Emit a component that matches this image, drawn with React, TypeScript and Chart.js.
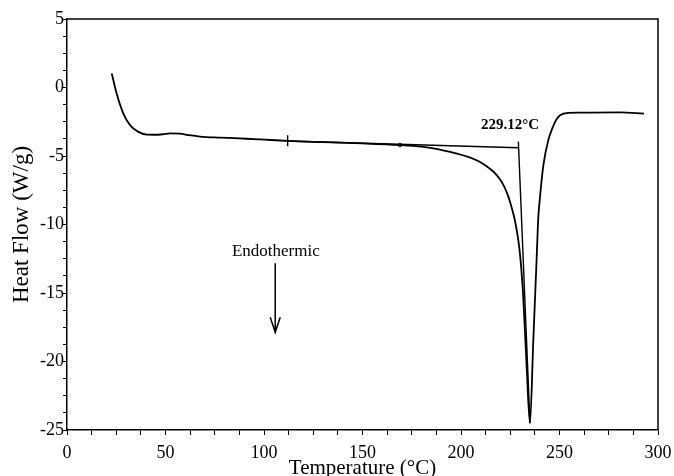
import React, { useEffect, useRef } from "react";
import { Chart, registerables } from "chart.js";

Chart.register(...registerables);

// DSC scan: temperature (°C) vs heat flow (W/g)
const temperature = [
  22.7, 25.2, 28.6, 32.0, 36.2, 40.5, 44.5, 48.9, 52.3, 57.4, 62.0, 67.5, 77.7,
  91.2, 98.0, 112.0, 130.0, 150.0, 169.0, 180.0, 186.0, 192.0, 198.0, 204.0,
  209.0, 213.0, 216.5, 219.5, 222.0, 224.0, 225.7, 227.2, 228.5, 229.6, 230.6,
  231.6, 233.3, 235.0, 236.7, 238.4, 239.2, 240.1, 241.8, 244.3, 246.4, 248.2,
  250.3, 254.5, 260.0, 265.5, 280.7, 292.9,
];
const heatFlow = [
  1.03, -0.44, -1.9, -2.75, -3.24, -3.44, -3.45, -3.41, -3.35, -3.37, -3.48,
  -3.58, -3.66, -3.74, -3.79, -3.9, -3.99, -4.08, -4.2, -4.32, -4.45, -4.62,
  -4.82, -5.08, -5.38, -5.75, -6.15, -6.65, -7.25, -7.95, -8.75, -9.6, -10.6,
  -11.7, -13.2, -15.3, -20.3, -24.5, -18.48, -12.48, -9.58, -8.0, -5.68, -3.85,
  -2.97, -2.39, -2.02, -1.85, -1.84, -1.83, -1.82, -1.9,
];

// Extrapolated baseline and leading-edge tangent used for the onset
const baselineT = [112.0, 229.12];
const baselineHF = [-3.9, -4.4];
const tangentT = [229.12, 235.0];
const tangentHF = [-3.95, -24.5];
// Baseline start marker
const markerT = [112.0, 112.0];
const markerHF = [-3.49, -4.29];
// Departure point of the curve from the baseline
const departT = [169.0];
const departHF = [-4.2];

const onsetLabel = "229.12°C";
const onsetLabelAt = [224.9, -2.75];
const endoLabel = "Endothermic";
const endoLabelAt = [106.0, -11.97];
const arrowT = 105.7;
const arrowHF = [-12.83, -17.87];

const xTitle = "Temperature (°C)";
const yTitle = "Heat Flow (W/g)";
const xRange = [0, 300];
const yRange = [-25, 5];
const xMajor = 50;
const xMinor = 12.5;
const yMajor = 5;
const yMinor = 1.25;

const SERIF = "'Liberation Serif', 'Times New Roman', serif";

const toPoints = (xs: number[], ys: number[]) => xs.map((x, i) => ({ x, y: ys[i] }));

const decorations = {
  id: "decorations",
  afterDraw(chart: any) {
    const { ctx, chartArea: a, scales } = chart;
    const sx = scales.x;
    const sy = scales.y;
    ctx.save();
    ctx.strokeStyle = "#000";
    ctx.fillStyle = "#000";

    // closing top and right edges of the frame
    ctx.lineWidth = 1.5;
    ctx.beginPath();
    ctx.moveTo(a.left, a.top);
    ctx.lineTo(a.right, a.top);
    ctx.lineTo(a.right, a.bottom);
    ctx.stroke();

    ctx.textAlign = "center";
    ctx.textBaseline = "middle";

    // onset temperature
    ctx.font = `bold 15px ${SERIF}`;
    ctx.fillText(onsetLabel, sx.getPixelForValue(onsetLabelAt[0]), sy.getPixelForValue(onsetLabelAt[1]));

    // endothermic direction
    ctx.font = `17px ${SERIF}`;
    ctx.fillText(endoLabel, sx.getPixelForValue(endoLabelAt[0]), sy.getPixelForValue(endoLabelAt[1]));
    const ax = sx.getPixelForValue(arrowT);
    const ay0 = sy.getPixelForValue(arrowHF[0]);
    const ay1 = sy.getPixelForValue(arrowHF[1]);
    ctx.lineWidth = 1.5;
    ctx.beginPath();
    ctx.moveTo(ax, ay0);
    ctx.lineTo(ax, ay1);
    ctx.moveTo(ax - 5, ay1 - 15);
    ctx.lineTo(ax, ay1);
    ctx.lineTo(ax + 5, ay1 - 15);
    ctx.stroke();

    // axis titles
    ctx.font = `23px ${SERIF}`;
    ctx.save();
    ctx.translate(22, (a.top + a.bottom) / 2);
    ctx.rotate(-Math.PI / 2);
    ctx.fillText(yTitle, 0, 0);
    ctx.restore();

    ctx.font = `21px ${SERIF}`;
    ctx.fillText(xTitle, (a.left + a.right) / 2, 468);

    ctx.restore();
  },
};

export default function App() {
  const canvasRef = useRef<HTMLCanvasElement | null>(null);

  useEffect(() => {
    if (!canvasRef.current) return;
    const black = "#000";
    const chart = new Chart(canvasRef.current, {
      type: "line",
      data: {
        datasets: [
          {
            data: toPoints(temperature, heatFlow),
            borderColor: black,
            borderWidth: 1.8,
            pointRadius: 0,
            cubicInterpolationMode: "monotone",
            fill: false,
          },
          {
            data: toPoints(baselineT, baselineHF),
            borderColor: black,
            borderWidth: 1.4,
            pointRadius: 0,
            fill: false,
          },
          {
            data: toPoints(tangentT, tangentHF),
            borderColor: black,
            borderWidth: 1.4,
            pointRadius: 0,
            fill: false,
          },
          {
            data: toPoints(markerT, markerHF),
            borderColor: black,
            borderWidth: 1.4,
            pointRadius: 0,
            fill: false,
          },
          {
            data: toPoints(departT, departHF),
            borderColor: black,
            backgroundColor: "#fff",
            borderWidth: 1,
            pointRadius: 1.8,
            showLine: false,
          },
        ],
      },
      options: {
        animation: false,
        responsive: false,
        devicePixelRatio: 1,
        layout: { padding: { top: 19, right: 16, bottom: 0, left: 0 } },
        plugins: {
          legend: { display: false },
          tooltip: { enabled: false },
          title: { display: false },
        },
        scales: {
          x: {
            type: "linear",
            min: xRange[0],
            max: xRange[1],
            afterFit: (scale: any) => {
              scale.height = 46;
              scale.paddingLeft = 0;
              scale.paddingRight = 0;
            },
            border: { display: true, color: black, width: 1.5 },
            grid: { drawOnChartArea: false, drawTicks: true, tickLength: 5, color: black, lineWidth: 1 },
            ticks: {
              stepSize: xMinor,
              autoSkip: false,
              maxRotation: 0,
              maxTicksLimit: 100,
              padding: 7,
              color: black,
              font: { family: SERIF, size: 18 },
              callback: (v: any) => (Math.abs(v % xMajor) < 1e-6 ? String(v) : ""),
            },
          },
          y: {
            type: "linear",
            min: yRange[0],
            max: yRange[1],
            afterFit: (scale: any) => {
              scale.width = 67;
              scale.paddingTop = 0;
              scale.paddingBottom = 0;
            },
            border: { display: true, color: black, width: 1.5 },
            grid: { drawOnChartArea: false, drawTicks: true, tickLength: 4, color: black, lineWidth: 1 },
            ticks: {
              stepSize: yMinor,
              autoSkip: false,
              maxTicksLimit: 100,
              padding: -1,
              color: black,
              font: { family: SERIF, size: 18 },
              callback: (v: any) => (Math.abs(v % yMajor) < 1e-6 ? String(v) : ""),
            },
          },
        },
      },
      plugins: [decorations],
    });
    return () => chart.destroy();
  }, []);

  return (
    <div style={{ position: "absolute", left: 0, top: 0, width: 674, height: 476, background: "#fff" }}>
      <canvas ref={canvasRef} width={674} height={476} style={{ display: "block" }} />
    </div>
  );
}
